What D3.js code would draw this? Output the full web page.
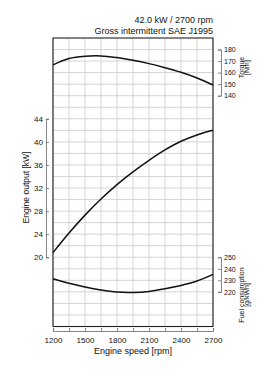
<!DOCTYPE html>
<html>
<head>
<meta charset="utf-8">
<script src="https://d3js.org/d3.v7.min.js"></script>
<style>
  body { margin: 0; background: #fff; }
  text { font-family: "Liberation Sans", Arial, sans-serif; fill: #111; }
</style>
</head>
<body>
<svg width="269" height="381" id="mainsvg"></svg>
<script>
    // curve readings, every 150 rpm
    const rpm = [1200,1350,1500,1650,1800,1950,2100,2250,2400,2550,2700];
    const torque = [166.7,172.2,174.2,174.5,173.0,170.7,167.8,164.3,160.3,155.4,149.3];
    const power = [20.8,24.2,27.3,30.1,32.6,34.8,36.8,38.6,40.1,41.2,42.0];
    const fuel = [231.4,227.4,224.2,221.6,219.8,219.5,220.4,222.7,225.6,229.4,235.2];

    const rpmLabels = [1200,1500,1800,2100,2400,2700];
    const powerTicks = [20,24,28,32,36,40,44];
    const torqueTicks = [140,150,160,170,180];
    const fuelTicks = [220,230,240,250];
    const titleLines = ['42.0 kW / 2700 rpm', 'Gross intermittent SAE J1995'];

    const svg = d3.select('#mainsvg');
    const pLeft = 53, pRight = 213, pTop = 38, pBottom = 326.5;

    const x = d3.scaleLinear().domain([1200,2700]).range([pLeft,pRight]);
    const y = d3.scaleLinear().domain([8,58]).range([pBottom,pTop]);   // kW grid
    const yT = d3.scaleLinear().domain([140,180]).range([y(48),y(56)]);
    const yF = d3.scaleLinear().domain([220,250]).range([y(14),y(20)]);
    const yP = d3.scaleLinear().domain([20,44]).range([y(20),y(44)]);

    // grid
    const grid = svg.append('g').attr('stroke','#d4d4d4').attr('stroke-width',1);
    rpm.forEach(r => grid.append('line')
        .attr('x1',x(r)).attr('x2',x(r)).attr('y1',pTop).attr('y2',pBottom));
    d3.range(10,58,2).forEach(v => grid.append('line')
        .attr('x1',pLeft).attr('x2',pRight).attr('y1',y(v)).attr('y2',y(v)));

    svg.append('rect').attr('x',pLeft).attr('y',pTop)
        .attr('width',pRight-pLeft).attr('height',pBottom-pTop)
        .attr('fill','none').attr('stroke','#222').attr('stroke-width',1.1);

    // curves
    const line = s => d3.line().x((d,i) => x(rpm[i])).y(d => s(d)).curve(d3.curveCatmullRom);
    [[torque,yT],[power,yP],[fuel,yF]].forEach(([arr,s]) => {
        svg.append('path').datum(arr).attr('d',line(s))
            .attr('fill','none').attr('stroke','#111').attr('stroke-width',1.5);
    });

    function style(g, size) {
        g.attr('font-family',null).attr('font-size',size);
        g.select('.domain').attr('stroke','#666').attr('stroke-width',0.8);
        g.selectAll('.tick line').attr('stroke','#666').attr('stroke-width',0.8);
        g.selectAll('.tick text').attr('fill','#111');
    }

    // axes
    svg.append('g').attr('transform','translate(0,331)')
        .call(d3.axisBottom(x).tickValues(rpm).tickSize(-3).tickPadding(6)
            .tickFormat(d => rpmLabels.includes(d) ? d : ''))
        .call(g => style(g, 8));

    svg.append('g').attr('transform','translate(46,0)')
        .call(d3.axisLeft(yP).tickValues(powerTicks).tickSize(-3).tickPadding(3))
        .call(g => style(g, 8));

    svg.append('g').attr('transform','translate(221,0)')
        .call(d3.axisRight(yT).tickValues(torqueTicks).tickSize(-3).tickPadding(3))
        .call(g => style(g, 7));

    svg.append('g').attr('transform','translate(221,0)')
        .call(d3.axisRight(yF).tickValues(fuelTicks).tickSize(-3).tickPadding(3))
        .call(g => style(g, 7));

    // titles
    titleLines.forEach((t,i) => svg.append('text').text(t)
        .attr('x',pRight).attr('y',22.5 + i*11).attr('text-anchor','end').attr('font-size',9));

    svg.append('text').text('Engine speed [rpm]')
        .attr('x',(pLeft+pRight)/2).attr('y',354).attr('text-anchor','middle').attr('font-size',9);

    svg.append('text').text('Engine output [kW]')
        .attr('transform','translate(29,187.5) rotate(-90)')
        .attr('text-anchor','middle').attr('font-size',8.5);

    function sideTitle(lines, cy) {
        lines.forEach((t,i) => svg.append('text').text(t)
            .attr('transform',`translate(${243.5 + i*5.5},${cy}) rotate(-90)`)
            .attr('text-anchor','middle').attr('font-size',7));
    }
    sideTitle(['Torque','[Nm]'], 67.5);
    sideTitle(['Fuel consumption','[g/kWh]'], 295);
</script>
</body>
</html>
